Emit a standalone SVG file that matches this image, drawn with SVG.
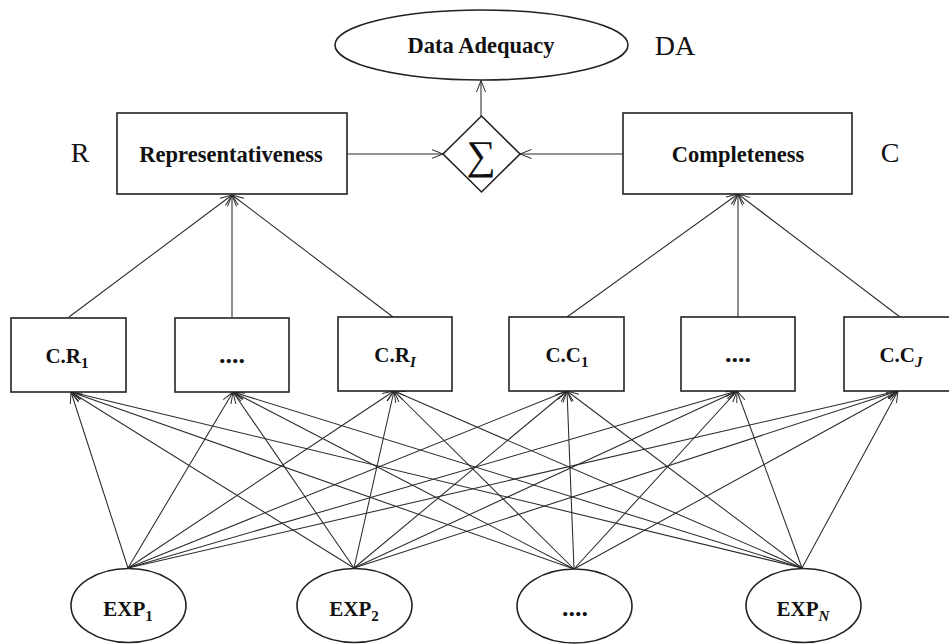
<svg xmlns="http://www.w3.org/2000/svg" width="949" height="644" viewBox="0 0 949 644">
<defs>
<marker id="arr" viewBox="0 0 12 10" refX="11.5" refY="5" markerWidth="12" markerHeight="10" markerUnits="userSpaceOnUse" orient="auto">
<path d="M0,0.5 L11.5,5 L0,9.5" fill="none" stroke="#2a2a2a" stroke-width="1"/>
</marker>
<style>
.box{fill:#fff;stroke:#222;stroke-width:1.6}
.lbl{font-family:"Liberation Serif","Times New Roman",serif;font-weight:bold;font-size:22.5px;fill:#111;text-anchor:middle}
.sm{font-family:"Liberation Serif","Times New Roman",serif;font-weight:bold;font-size:21px;fill:#111;text-anchor:middle}
.dots{font-size:26px}
.sub{font-size:15px}
.it{font-style:italic}
.side{font-family:"Liberation Serif","Times New Roman",serif;font-size:28px;fill:#111;text-anchor:middle}
.arw{stroke:#2a2a2a;stroke-width:1.05;fill:none;marker-end:url(#arr)}
</style>
</defs>
<rect width="949" height="644" fill="#fff"/>

<g id="connectors">
<line class="arw" x1="481" y1="116" x2="481" y2="80.5"/>
<line class="arw" x1="347" y1="154" x2="443" y2="154"/>
<line class="arw" x1="623" y1="154" x2="520" y2="154"/>
<line class="arw" x1="69" y1="317" x2="232" y2="195"/>
<line class="arw" x1="232" y1="317" x2="232" y2="195"/>
<line class="arw" x1="393" y1="317" x2="232" y2="195"/>
<line class="arw" x1="567" y1="317" x2="738" y2="194"/>
<line class="arw" x1="738" y1="317" x2="738" y2="194"/>
<line class="arw" x1="900" y1="317" x2="738" y2="194"/>
<g id="exp1-links">
<line class="arw" x1="128" y1="568" x2="71" y2="392"/>
<line class="arw" x1="128" y1="568" x2="233" y2="392"/>
<line class="arw" x1="128" y1="568" x2="394" y2="391"/>
<line class="arw" x1="128" y1="568" x2="567" y2="391"/>
<line class="arw" x1="128" y1="568" x2="737" y2="391"/>
<line class="arw" x1="128" y1="568" x2="898" y2="391"/>
</g>
<g id="exp2-links">
<line class="arw" x1="354" y1="568" x2="71" y2="392"/>
<line class="arw" x1="354" y1="568" x2="233" y2="392"/>
<line class="arw" x1="354" y1="568" x2="394" y2="391"/>
<line class="arw" x1="354" y1="568" x2="567" y2="391"/>
<line class="arw" x1="354" y1="568" x2="737" y2="391"/>
<line class="arw" x1="354" y1="568" x2="898" y2="391"/>
</g>
<g id="exp3-links">
<line class="arw" x1="574" y1="569" x2="71" y2="392"/>
<line class="arw" x1="574" y1="569" x2="233" y2="392"/>
<line class="arw" x1="574" y1="569" x2="394" y2="391"/>
<line class="arw" x1="574" y1="569" x2="567" y2="391"/>
<line class="arw" x1="574" y1="569" x2="737" y2="391"/>
<line class="arw" x1="574" y1="569" x2="898" y2="391"/>
</g>
<g id="expN-links">
<line class="arw" x1="802" y1="568" x2="71" y2="392"/>
<line class="arw" x1="802" y1="568" x2="233" y2="392"/>
<line class="arw" x1="802" y1="568" x2="394" y2="391"/>
<line class="arw" x1="802" y1="568" x2="567" y2="391"/>
<line class="arw" x1="802" y1="568" x2="737" y2="391"/>
<line class="arw" x1="802" y1="568" x2="898" y2="391"/>
</g>
</g>

<g id="node-da">
<ellipse class="box" cx="481.5" cy="45" rx="146.5" ry="35"/>
<text class="lbl" x="481" y="53">Data Adequacy</text>
</g>
<text id="label-da" class="side" x="675" y="55">DA</text>

<g id="node-sum">
<polygon class="box" points="481.5,116 520,154 481.5,192 443,154"/>
<text x="481" y="169" font-family="'Liberation Serif','Times New Roman',serif" font-size="41" fill="#111" text-anchor="middle">∑</text>
</g>

<g id="node-r">
<rect class="box" x="117" y="113" width="230" height="81"/>
<text class="lbl" x="231" y="162">Representativeness</text>
</g>
<text id="label-r" class="side" x="80" y="162">R</text>

<g id="node-c">
<rect class="box" x="623" y="113" width="229" height="81"/>
<text class="lbl" x="738" y="162">Completeness</text>
</g>
<text id="label-c" class="side" x="890" y="162">C</text>

<g id="node-cr1">
<rect class="box" x="11" y="318" width="115" height="74"/>
<text class="sm" x="67" y="363">C.R<tspan class="sub" dy="5">1</tspan></text>
</g>
<g id="node-crdots">
<rect class="box" x="175" y="318" width="114" height="74"/>
<text class="sm dots" x="232" y="363">....</text>
</g>
<g id="node-cri">
<rect class="box" x="338" y="317" width="114" height="74"/>
<text class="sm" x="395" y="362">C.R<tspan class="sub it" dy="5">I</tspan></text>
</g>
<g id="node-cc1">
<rect class="box" x="509" y="317" width="115" height="74"/>
<text class="sm" x="567" y="362">C.C<tspan class="sub" dy="5">1</tspan></text>
</g>
<g id="node-ccdots">
<rect class="box" x="681" y="317" width="114" height="74"/>
<text class="sm dots" x="738" y="362">....</text>
</g>
<g id="node-ccj">
<rect class="box" x="844" y="317" width="114" height="74"/>
<text class="sm" x="901" y="362">C.C<tspan class="sub it" dy="5">J</tspan></text>
</g>

<g id="node-exp1">
<ellipse class="box" cx="128.5" cy="605.5" rx="57.5" ry="37"/>
<text class="sm" x="128" y="616">EXP<tspan class="sub" dy="5">1</tspan></text>
</g>
<g id="node-exp2">
<ellipse class="box" cx="354.5" cy="605.5" rx="57.5" ry="37"/>
<text class="sm" x="354" y="616">EXP<tspan class="sub" dy="5">2</tspan></text>
</g>
<g id="node-exp3">
<ellipse class="box" cx="574.5" cy="606" rx="57.5" ry="37"/>
<text class="sm dots" x="575" y="616">....</text>
</g>
<g id="node-expn">
<ellipse class="box" cx="803.5" cy="605.5" rx="57.5" ry="37"/>
<text class="sm" x="803" y="616">EXP<tspan class="sub it" dy="5">N</tspan></text>
</g>
</svg>
